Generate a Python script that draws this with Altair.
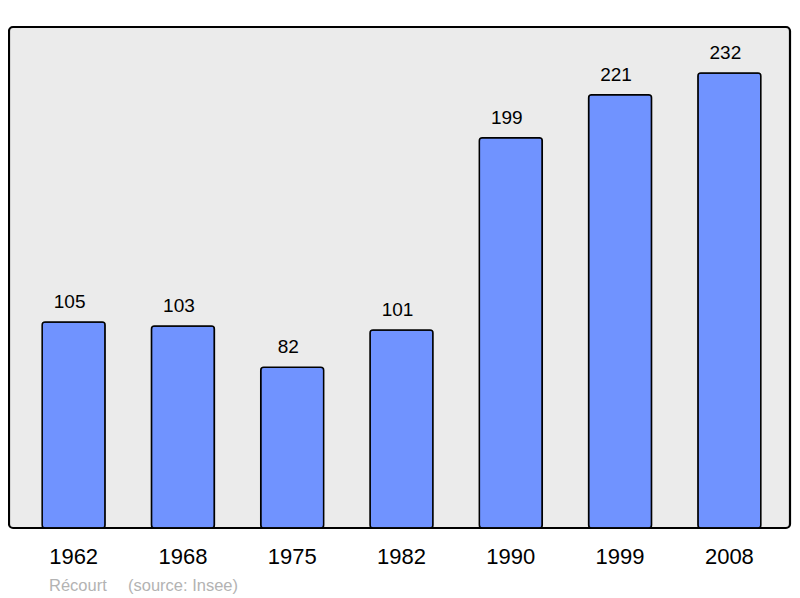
import altair as alt
import pandas as pd

years = ["1962", "1968", "1975", "1982", "1990", "1999", "2008"]
population = [105, 103, 82, 101, 199, 221, 232]
caption_texts = ["Récourt", "(source: Insee)"]
caption_x = [40, 119]

df = pd.DataFrame({"year": years, "pop": population})

FONT = "Liberation Sans"

x = alt.X("year:N", sort=years,
          scale=alt.Scale(paddingInner=0.424, paddingOuter=0.285, range=[2, 783]),
          axis=alt.Axis(title=None, labelAngle=0, labelFontSize=22, labelFont=FONT,
                        labelColor="black", ticks=False, domain=False, labelPadding=18))
y = alt.Y("pop:Q", scale=alt.Scale(domain=[0, 255.5], nice=False, zero=True),
          axis=None)

bars = alt.Chart(df).mark_bar(color="#7093ff", stroke="black", strokeWidth=1.5,
                              cornerRadius=3).encode(x=x, y=y)

labels = alt.Chart(df).mark_text(fontSize=19, font=FONT, color="black",
                                 baseline="alphabetic", dy=-14, dx=-4).encode(
    x=x, y=y, text="pop:Q")

layers = [bars, labels]
for t, px in zip(caption_texts, caption_x):
    layers.append(
        alt.Chart(pd.DataFrame({"t": [t]})).mark_text(
            fontSize=16.5, font=FONT, color="#b3b3b3", align="left", baseline="middle"
        ).encode(x=alt.value(px), y=alt.value(559), text="t:N")
    )

chart = alt.layer(*layers).properties(
    width=781, height=501,
    padding={"left": 1, "top": 19, "right": 2, "bottom": 66},
    autosize=alt.AutoSizeParams(type="none"),
).configure_view(fill="#ebebeb", stroke="black", strokeWidth=2.2, cornerRadius=4)

chart.save("out.html", embed_options={"renderer": "svg", "actions": False})
